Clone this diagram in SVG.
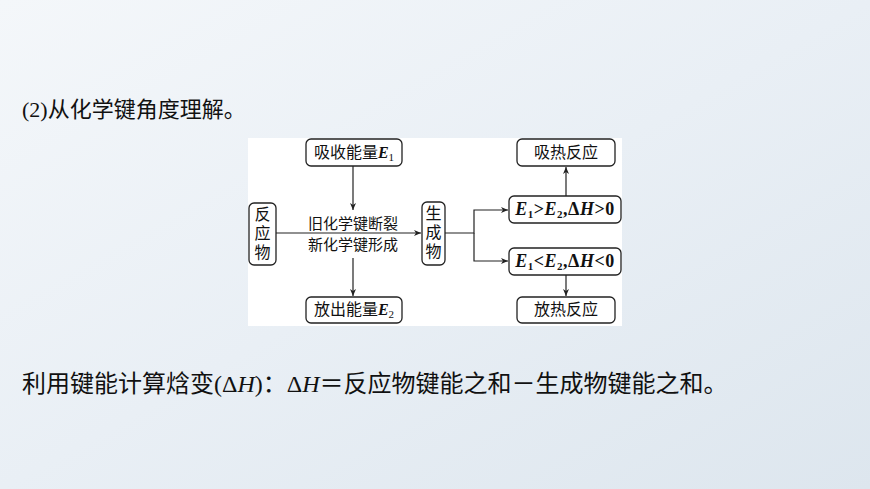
<svg xmlns="http://www.w3.org/2000/svg" width="870" height="489" viewBox="0 0 870 489">
<defs>
<linearGradient id="bg" x1="0" y1="0" x2="1" y2="1"><stop offset="0" stop-color="#f4f7fa"/><stop offset="0.5" stop-color="#e9eff5"/><stop offset="1" stop-color="#dde6ee"/></linearGradient>
<marker id="ar" markerWidth="8" markerHeight="8" refX="7" refY="4" orient="auto" markerUnits="userSpaceOnUse"><path d="M0,1 L7,4 L0,7 L2,4 Z" fill="#222"/></marker>
</defs>
<style>
.b{fill:#fff;stroke:#222;stroke-width:1.3}
.t{font-family:"Liberation Serif","Noto Sans CJK SC",serif;font-size:16px;fill:#111;text-anchor:middle}
.f{font-size:18px;font-weight:bold;letter-spacing:0.5px}
.s{font-size:11px}
.c{stroke:#222;stroke-width:1.2;fill:none}
.big{font-family:"Liberation Serif","Noto Sans CJK SC",serif;font-size:22px;fill:#111}
</style>
<rect width="870" height="489" fill="url(#bg)"/>
<text class="big" x="22" y="117">(2)从化学键角度理解。</text>
<rect x="248" y="138" width="374" height="188" fill="#fff"/>
<g id="connectors">
<path class="c" d="M276,233 H421" marker-end="url(#ar)"/>
<path class="c" d="M353,166 V210" marker-end="url(#ar)"/>
<path class="c" d="M353,258 V296" marker-end="url(#ar)"/>
<path class="c" d="M445,233 H474 V210 H508" marker-end="url(#ar)"/>
<path class="c" d="M474,233 V261 H508" marker-end="url(#ar)"/>
<path class="c" d="M566,196 V167" marker-end="url(#ar)"/>
<path class="c" d="M566,275 V296" marker-end="url(#ar)"/>
<text class="t" x="353" y="229" style="font-size:15px">旧化学键断裂</text>
<text class="t" x="353" y="250" style="font-size:15px">新化学键形成</text>
</g>
<g id="n1"><rect class="b" x="306" y="139" width="96" height="27" rx="5"/><text class="t" x="354" y="158">吸收能量<tspan font-style="italic" font-weight="bold">E</tspan><tspan class="s" dy="3">1</tspan></text></g>
<g id="n2"><rect class="b" x="249" y="203" width="27" height="62" rx="5"/><text class="t" x="262.5" y="220">反</text><text class="t" x="262.5" y="239">应</text><text class="t" x="262.5" y="258">物</text></g>
<g id="n3"><rect class="b" x="422" y="202" width="23" height="63" rx="5"/><text class="t" x="433.5" y="219">生</text><text class="t" x="433.5" y="238">成</text><text class="t" x="433.5" y="257">物</text></g>
<g id="n4"><rect class="b" x="306" y="297" width="96" height="26" rx="5"/><text class="t" x="354" y="315">放出能量<tspan font-style="italic" font-weight="bold">E</tspan><tspan class="s" dy="3">2</tspan></text></g>
<g id="n5"><rect class="b" x="517" y="139" width="98" height="27" rx="5"/><text class="t" x="566" y="158">吸热反应</text></g>
<g id="n6"><rect class="b" x="509" y="196" width="112" height="27" rx="5"/><text class="t f" x="565" y="215"><tspan font-style="italic">E</tspan><tspan class="s" dy="3">1</tspan><tspan dy="-3">&gt;</tspan><tspan font-style="italic">E</tspan><tspan class="s" dy="3">2</tspan><tspan dy="-3">,Δ</tspan><tspan font-style="italic">H</tspan>&gt;0</text></g>
<g id="n7"><rect class="b" x="509" y="248" width="112" height="27" rx="5"/><text class="t f" x="565" y="267"><tspan font-style="italic">E</tspan><tspan class="s" dy="3">1</tspan><tspan dy="-3">&lt;</tspan><tspan font-style="italic">E</tspan><tspan class="s" dy="3">2</tspan><tspan dy="-3">,Δ</tspan><tspan font-style="italic">H</tspan>&lt;0</text></g>
<g id="n8"><rect class="b" x="517" y="297" width="98" height="26" rx="5"/><text class="t" x="566" y="315">放热反应</text></g>
<text class="big" x="22" y="392" style="font-size:24px">利用键能计算焓变(Δ<tspan font-style="italic">H</tspan>)：Δ<tspan font-style="italic">H</tspan>＝反应物键能之和－生成物键能之和。</text>
</svg>
